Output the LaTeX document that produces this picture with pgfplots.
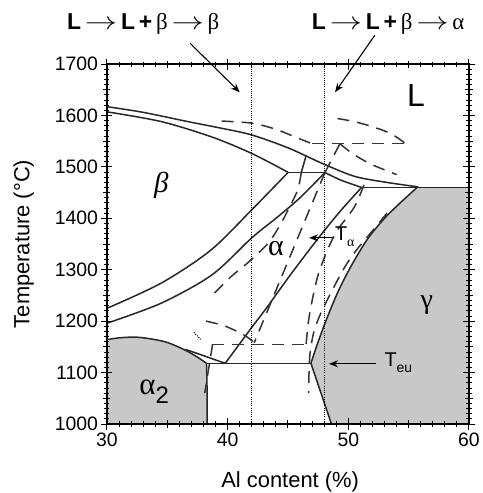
\documentclass[border=0pt]{standalone}
\usepackage{fontspec}
\setmainfont{Liberation Sans}
\newfontfamily\grk{Liberation Serif}
\usepackage{graphicx}
\usepackage{pgfplots}
\pgfplotsset{compat=1.18}
\usetikzlibrary{arrows.meta}
\definecolor{grayfill}{RGB}{200,200,200}
\newcommand{\arr}{\scalebox{1.3}[1]{$\rightarrow$}}
\tikzset{
  sol/.style={draw=black!85,line width=1.5bp,mark=none},
  das/.style={draw=black!80,line width=1.5bp,mark=none,dash pattern=on 12bp off 8bp},
  dot/.style={draw=black,line width=1bp,mark=none,dash pattern=on 1bp off 1.2bp},
  arw/.style={line width=1.1bp,-{Stealth[length=9bp,width=7bp]}}
}
\begin{document}
\begin{tikzpicture}
\path[use as bounding box] (-107bp,-69bp) rectangle (376bp,424bp);
\begin{axis}[
  at={(0,0)}, anchor=south west,
  width=362bp, height=360bp, scale only axis,
  xmin=30, xmax=60, ymin=1000, ymax=1700,
  xtick={30,40,50,60}, ytick={1000,1100,...,1700},
  minor x tick num=9, minor y tick num=9,
  extra x ticks={35,45,55}, extra x tick labels={},
  extra y ticks={1050,1150,1250,1350,1450,1550,1650}, extra y tick labels={},
  extra tick style={major tick length=7bp},
  tick align=center, major tick length=11bp, minor tick length=5bp,
  tick style={line width=1bp, black},
  axis line style={line width=1.5bp},
  axis on top,
  /pgf/number format/assume math mode=true,
  /pgf/number format/1000 sep={},
  ticklabel style={font=\fontsize{19.5}{19.5}\selectfont},
  clip=false,
  xlabel={Al content (\%)}, ylabel={Temperature (°C)},
  label style={font=\fontsize{22}{22}\selectfont},
  xlabel style={at={(axis description cs:0.506,-0.16)},anchor=center},
  ylabel style={at={(axis description cs:-0.23,0.5)},anchor=center},
]
% gray regions
\addplot[fill=grayfill,draw=none] coordinates {(30,1000)(30,1164)(31,1167.5)(32.3,1169)(33.5,1166)(34.8,1160)(35.8,1151)(36.7,1141)(37.5,1130)(38.25,1118)(38.3,1060)(38.3,1000)} -- cycle;
\addplot[fill=grayfill,draw=none] coordinates {(60,1460)(55.7,1460)(54.3,1430)(53,1400)(51.6,1360)(50.3,1310)(49.2,1260)(48.3,1210)(47.5,1160)(46.9,1118)(48.6,1000)(60,1000)} -- cycle;
% solid lines
\addplot[sol,smooth] coordinates {(30,1617)(33,1606)(36.7,1588)(39.5,1575)(42,1562)(45,1537)(48,1505)(50.6,1481)(53.4,1469)(55.8,1461)};
\addplot[sol,smooth] coordinates {(30,1607)(34.5,1588)(38.7,1558)(42,1526)(45,1489.5)};
\addplot[sol] coordinates {(45,1489)(48.06,1489)};
\addplot[sol,smooth] coordinates {(48.06,1489)(49.4,1474)(51.1,1460)};
\addplot[sol] coordinates {(51.1,1460)(60,1460)};
\addplot[sol] coordinates {(46.1,1489)(46.5,1522)};
\addplot[sol,smooth] coordinates {(30,1225)(34.5,1274)(38.6,1338)(42.1,1419)(45,1489)};
\addplot[sol,smooth] coordinates {(30,1196)(34.5,1235)(38.7,1290)(42,1362)(44,1400)(46,1440)(48.06,1489)};
\addplot[sol,smooth] coordinates {(39.8,1118)(42,1188)(43.2,1225)(45.2,1290)(47.4,1358)(49.3,1413)(51.1,1460)};
\addplot[sol,smooth] coordinates {(55.7,1460)(54.3,1430)(53,1400)(51.6,1360)(50.3,1310)(49.2,1260)(48.3,1210)(47.5,1160)(46.9,1118)};
\addplot[sol] coordinates {(46.9,1118)(48.6,1000)};
\addplot[sol] coordinates {(38.25,1118)(46.9,1118)};
\addplot[sol,smooth] coordinates {(30,1164)(31,1167.5)(32.3,1169)(33.5,1166)(34.8,1160)(35.8,1151)(36.7,1141)(37.5,1130)(38.25,1118)};
\addplot[sol] coordinates {(38.25,1118)(38.3,1060)(38.3,1000)};
\addplot[sol,smooth] coordinates {(36.5,1145)(37.5,1137)(38.7,1127)(39.8,1118)};
% dashed lines
\addplot[das,smooth] coordinates {(39.5,1589)(42,1585)(44,1573)(45.8,1556)(47,1545)};
\addplot[das] coordinates {(47,1545)(54.7,1545)};
\addplot[das,smooth] coordinates {(49.1,1594)(50.5,1588)(52,1578)(53.5,1565)(54.7,1546)};
\addplot[das,smooth] coordinates {(49.3,1545)(50.4,1525)(51.9,1505)(54,1485)};
\addplot[das] coordinates {(48.06,1489)(49.3,1545)};
\addplot[das,smooth] coordinates {(46.1,1489)(45.8,1455)(45,1416)(44.3,1385)(43.3,1350)(41.5,1310)(40.3,1287)(38.5,1245)};
\addplot[das] coordinates {(48.06,1489)(42.2,1158)};
\addplot[das,smooth] coordinates {(38.2,1200)(39.6,1192)(40.6,1182)(41.5,1171)(42.2,1158)};
\addplot[dot] coordinates {(37.2,1178)(37.8,1164)};
\addplot[das] coordinates {(38.7,1155)(46.5,1155)};
\addplot[das] coordinates {(38.75,1155)(38.1,1060)};
\addplot[das,smooth] coordinates {(51.3,1465)(50.5,1422)(49.1,1377)(48.3,1340)(47.5,1290)(47,1240)(46.7,1200)(46.5,1155)};
\addplot[das,smooth] coordinates {(53.2,1410)(52.2,1381)(50.8,1342)(49.7,1305)(48.4,1248)(47.6,1209)(47.1,1175)(46.8,1130)(46.7,1060)};
% dotted verticals
\addplot[dot] coordinates {(42,1000)(42,1700)};
\addplot[dot] coordinates {(48,1000)(48,1700)};
% labels
\node at (axis cs:55.6,1639) {\fontsize{32}{32}\selectfont L};
\node at (axis cs:34.5,1463) {\fontsize{29}{29}\selectfont\grk\itshape β};
\node at (axis cs:44.0,1342) {\fontsize{30}{30}\selectfont\grk α};
\node at (axis cs:56.5,1232) {\fontsize{28}{28}\selectfont\grk γ};
\node at (axis cs:33.9,1063) {\fontsize{31}{31}\selectfont{\grk α}\raisebox{-0.3em}{\fontsize{24}{24}\selectfont 2}};
% arrows
\draw[arw] (axis cs:48.7,1362) -- (axis cs:46.75,1362);
\node[anchor=west,inner sep=1bp] at (axis cs:48.8,1364) {\fontsize{20}{20}\selectfont T\raisebox{-0.3em}{\fontsize{14}{14}\selectfont\grk α}};
\draw[arw] (axis cs:52.3,1117) -- (axis cs:48.4,1117);
\node[anchor=west,inner sep=1bp] at (axis cs:52.9,1119) {\fontsize{20}{20}\selectfont T\raisebox{-0.3em}{\fontsize{14}{14}\selectfont eu}};
\draw[arw] (axis cs:36.9,1740) -- (axis cs:41.0,1645);
\draw[arw] (axis cs:52.2,1756) -- (axis cs:48.9,1645);
\node[font=\bfseries\fontsize{23}{23}\selectfont] at (axis cs:33,1779) {L\,\arr\,L\,+\,{\grk\mdseries β}\,\arr\,{\grk\mdseries β}};
\node[font=\bfseries\fontsize{23}{23}\selectfont] at (axis cs:53.3,1779) {L\,\arr\,L\,+\,{\grk\mdseries β}\,\arr\,{\grk\mdseries α}};
\end{axis}
\end{tikzpicture}
\end{document}
